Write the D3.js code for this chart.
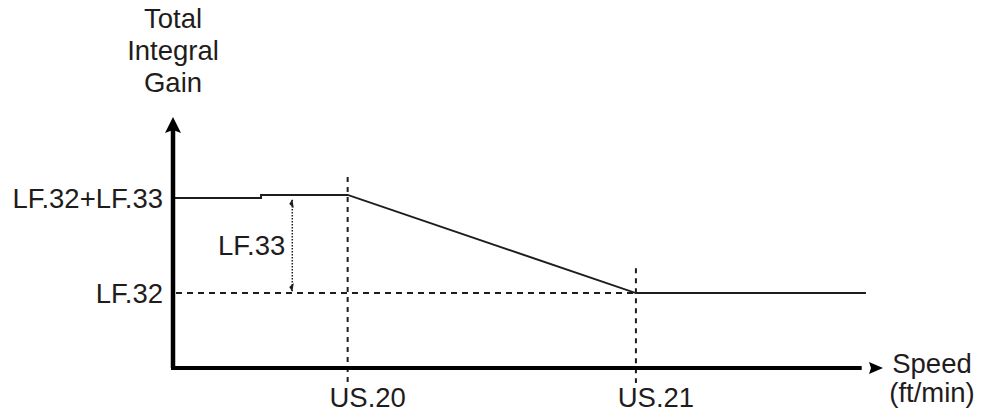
<!DOCTYPE html>
<html><head><meta charset="utf-8">
<script src="https://cdn.jsdelivr.net/npm/d3@7"></script>
<style>
html,body{margin:0;padding:0;background:#fff;}
svg{display:block;font-family:"Liberation Sans",Arial,Helvetica,sans-serif;}
</style></head>
<body>
<svg id="chart" width="981" height="414"></svg>
<script>
// ---- data ----
const titleLines = ["Total", "Integral", "Gain"];
const xAxisLines = ["Speed", "(ft/min)"];
const speedLabels = ["US.20", "US.21"];
const speedBreaks = [24.6, 65.2];
const gainLabels = ["LF.32", "LF.32+LF.33"];
const gainValues = [1.0, 2.27];
const curveSpeed = [0, 12.4, 12.4, 24.6, 65.2, 97.6];
const curveGain  = [2.27, 2.27, 2.31, 2.31, 1.0, 1.0];
const deltaLabel = "LF.33";
const deltaSpeed = 16.8;

// ---- scales ----
const x = d3.scaleLinear().domain([0, 100]).range([173, 883]);
const y = d3.scaleLinear().domain([0, 3.35]).range([368, 117]);

const svg = d3.select("#chart");
const ink = "#1f1c1d";
const fs = 27.5;

// title
svg.append("g").selectAll("text").data(titleLines).join("text")
  .attr("x", 173).attr("y", (d, i) => 28 + i * 32)
  .attr("text-anchor", "middle").attr("font-size", fs).attr("fill", ink)
  .text(d => d);

// reference dashed lines
svg.append("line")
  .attr("x1", x(0) + 3).attr("x2", x(speedBreaks[1]))
  .attr("y1", y(gainValues[0])).attr("y2", y(gainValues[0]))
  .attr("stroke", ink).attr("stroke-width", 2).attr("stroke-dasharray", "6,5");
svg.append("line")
  .attr("x1", x(speedBreaks[0])).attr("x2", x(speedBreaks[0]))
  .attr("y1", y(2.55)).attr("y2", y(0) + 15)
  .attr("stroke", ink).attr("stroke-width", 2).attr("stroke-dasharray", "5,5");
svg.append("line")
  .attr("x1", x(speedBreaks[1])).attr("x2", x(speedBreaks[1]))
  .attr("y1", y(1.33)).attr("y2", y(0) + 15)
  .attr("stroke", ink).attr("stroke-width", 2).attr("stroke-dasharray", "5,5");

// curve
const line = d3.line().x((d, i) => x(curveSpeed[i])).y(d => y(d));
svg.append("path").datum(curveGain)
  .attr("d", line).attr("fill", "none")
  .attr("stroke", ink).attr("stroke-width", 2);

// delta dotted arrow
const dx = x(deltaSpeed);
svg.append("line")
  .attr("x1", dx).attr("x2", dx)
  .attr("y1", y(gainValues[1]) + 2).attr("y2", y(gainValues[0]) - 2)
  .attr("stroke", ink).attr("stroke-width", 1.5).attr("stroke-dasharray", "1.5,1.5");
svg.append("path")
  .attr("d", `M${dx-3},${y(gainValues[1])+6} L${dx},${y(gainValues[1])+1} L${dx+1.5},${y(gainValues[1])+10} Z`)
  .attr("fill", ink);
svg.append("path")
  .attr("d", `M${dx-3},${y(gainValues[0])-6} L${dx},${y(gainValues[0])-1} L${dx+1.5},${y(gainValues[0])-10} Z`)
  .attr("fill", ink);
svg.append("text")
  .attr("x", dx - 7).attr("y", (y(gainValues[0]) + y(gainValues[1])) / 2)
  .attr("dy", "0.35em").attr("text-anchor", "end")
  .attr("font-size", fs).attr("fill", ink).text(deltaLabel);

// axes
svg.append("path")
  .attr("d", `M${x(0)},${y(0)} L${x(0)},${y(3.2)}`)
  .attr("stroke", "#000").attr("stroke-width", 4.5).attr("fill", "none");
svg.append("path")
  .attr("d", `M${x(0)},${y(3.35)} L${x(0)+8},${y(3.35)+16} L${x(0)},${y(3.35)+13} L${x(0)-8},${y(3.35)+16} Z`)
  .attr("fill", "#000");
svg.append("path")
  .attr("d", `M${x(0)-2},${y(0)} L${x(97)},${y(0)}`)
  .attr("stroke", "#000").attr("stroke-width", 4).attr("fill", "none");
svg.append("path")
  .attr("d", `M${x(100)},${y(0)} L${x(100)-14},${y(0)-6} L${x(100)-12},${y(0)} L${x(100)-14},${y(0)+6} Z`)
  .attr("fill", "#000");

// y labels
svg.append("g").selectAll("text").data(gainLabels).join("text")
  .attr("x", 163).attr("y", (d, i) => y(gainValues[i]))
  .attr("dy", "0.35em").attr("text-anchor", "end")
  .attr("font-size", fs).attr("fill", ink).text(d => d);

// x labels
svg.append("g").selectAll("text").data(speedLabels).join("text")
  .attr("x", (d, i) => x(speedBreaks[i]) + 20).attr("y", 407)
  .attr("text-anchor", "middle")
  .attr("font-size", fs).attr("fill", ink).text(d => d);

// x axis title
svg.append("g").selectAll("text").data(xAxisLines).join("text")
  .attr("x", 932).attr("y", (d, i) => 373 + i * 29)
  .attr("text-anchor", "middle")
  .attr("font-size", fs).attr("fill", ink).text(d => d);
</script>
</body></html>
